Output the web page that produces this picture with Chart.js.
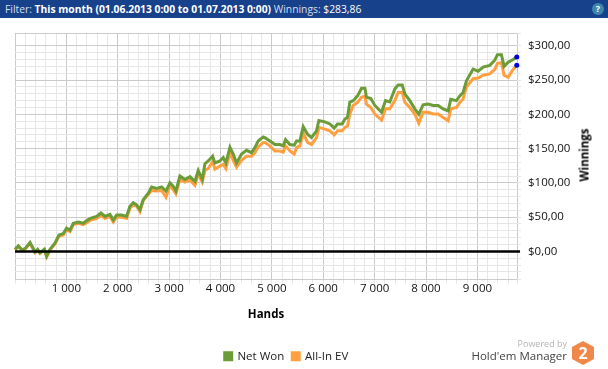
<!DOCTYPE html>
<html>
<head>
<meta charset="utf-8">
<title>Winnings</title>
<script src="https://cdn.jsdelivr.net/npm/chart.js@4"></script>
<style>
body{margin:0;background:#fff;overflow:hidden;font-family:"Open Sans",sans-serif}
#cv{position:absolute;left:0;top:0}
#head{position:absolute;left:0;top:0;width:608px;height:18px;background:#17418a;color:#fff;font-size:10.3px;line-height:18px;white-space:nowrap;padding-left:5px;box-sizing:border-box}
#head span{color:#d5dfee}
#help{position:absolute;left:592px;top:3px;width:12px;height:12px;border-radius:50%;background:#3f86ad;color:#fff;font:bold 9px/12px "Open Sans",sans-serif;text-align:center}
#ylab{position:absolute;left:584px;top:155px;transform:translate(-50%,-50%) rotate(-90deg);font:bold 11.5px "Open Sans",sans-serif;color:#000}
#pow{position:absolute;right:41px;top:337px;font-size:9px;color:#b4b4b4}
#hem{position:absolute;right:41px;top:348px;font-size:11.5px;color:#444}
#logo{position:absolute;left:572px;top:341px;width:22px;height:24px}
</style>
</head>
<body>
<canvas id="cv" width="608" height="369"></canvas>
<div id="head"><span>Filter:</span> <b>This month (01.06.2013 0:00 to 01.07.2013 0:00)</b> <span>Winnings:</span> $283,86</div>
<div id="help">?</div>
<div id="ylab">Winnings</div>
<div id="pow">Powered by</div>
<div id="hem">Hold'em Manager</div>
<svg id="logo" viewBox="0 0 22 24"><polygon points="11,0 22,6 22,18 11,24 0,18 0,6" fill="#f0884a"/><text x="11" y="18" text-anchor="middle" font-family="Open Sans" font-weight="bold" font-size="16" fill="#fff">2</text></svg>
<script>
// valores
var hands = [0,65,143,208,292,389,441,486,571,616,681,778,856,940,1005,1070,1135,1232,1329,1394,1479,1589,1673,1751,1848,1913,1978,2075,2172,2237,2302,2367,2432,
    2497,2594,2659,2756,2854,2938,3016,3081,3132,3210,3307,3405,3502,3567,3645,3697,3761,3846,3891,3988,4053,4105,4183,4248,4313,4410,4507,4604,4669,4734,4831,
    4864,4961,5059,5156,5221,5266,5350,5435,5480,5545,5610,5694,5772,5869,5915,6031,6129,6213,6278,6369,6420,6472,6518,6583,6667,6745,6810,6842,6926,7004,7134,7212,7296,
    7393,7458,7536,7588,7685,7782,7860,7944,8042,8139,8236,8333,8431,8482,8593,8658,8722,8787,8917,9014,9112,9241,9339,9390,9468,9520,9598,9695,9767];
var netWon = [3,8,2,5,13,-0.5,3,-2,3,-7,3,12,24,26,34,31,41,43,41,45,48.5,51,56,51,54,46,53,53,51,66,71,68,61,
    75.5,85,94,92,94,88,100,95,88,110,105,109,102,118,105,128,132,139,129,132,137,129,152,142,129,142,147.5,144,151.5,161,167,
    166,161,156,156,154,163,156,155,161,161,182,171,166,176,191,189,186,180,186,186,193,196,218,220,227,238,238,225,223,213,203,220,218,
    237,243,243,230,220,208,200,214,215,213,213,208,205,222,220,227,232,249,266,263,269,271.5,279,287,287,270,276,280,283.86];
var allInEv = [2,7,1,4,12,-2,1,-3,2,-8,2,11,22,24,32,29,39,41,39,42,46,48,53,48,51,43,50,50,48,63,68,66,58,
    74.5,83,89,88,89,79,96.5,90,84,105,101,104,96.5,113,101.5,118,121,131,120,124.5,127,121,144,133,123,133,139,139,144,152.5,159,
    159,154,146.5,146.5,145,154,146.5,142,151.5,154,172.5,159,156,166,181,178.5,176,170,176,176,181,183,200.5,213,217.5,225,226.5,215,210,200.5,191.5,208,208,
    220,232,232,217.5,210,200.5,187,203,203,200.5,200.5,195.5,190.5,208,210,217.5,222.5,240,252,253,257,259,265.5,274,275.5,257,254,265.5,271.5];
var handTicks = [0,200,400,600,800,1000,1200,1400,1600,1800,2000,2200,2400,2600,2800,3000,3200,3400,3600,3800,4000,4200,4400,4600,4800,5000,
    5200,5400,5600,5800,6000,6200,6400,6600,6800,7000,7200,7400,7600,7800,8000,8200,8400,8600,8800,9000,9200,9400,9600,9771];

var verde = "#6b9c37", naranja = "#ff9f40";
var gridFuerte = "#cbcbcb", gridSuave = "#e6e6e6";

function puntos(valores){
    return hands.map(function(h,i){ return {x:h, y:valores[i]}; });
}
function radioFinal(ctx){
    return ctx.dataIndex==hands.length-1 ? 2.5 : 0;
}

var lineaCero = {
    id:"lineaCero",
    afterLayout:function(chart){
        // la leyenda va centrada bajo el area del grafico, no del canvas
        chart.legend.left -= 25;
        chart.legend.right -= 25;
        chart.legend.top += 3;
    },
    afterDatasetsDraw:function(chart){
        var y = chart.scales.y.getPixelForValue(0), a = chart.chartArea, c = chart.ctx;
        c.save();
        c.strokeStyle = "#000";
        c.lineWidth = 2.5;
        c.beginPath();
        c.moveTo(a.left,y);
        c.lineTo(a.right+3,y);
        c.stroke();
        c.restore();
    }
};

new Chart(document.getElementById("cv").getContext("2d"),{
    type:"line",
    plugins:[lineaCero],
    data:{
        datasets:[
            {label:"Net Won",data:puntos(netWon),borderColor:verde,backgroundColor:verde,borderWidth:3,clip:false,tension:0,
             pointRadius:radioFinal,pointBackgroundColor:"#0000e0",pointBorderWidth:0},
            {label:"All-In EV",data:puntos(allInEv),borderColor:naranja,backgroundColor:naranja,borderWidth:3,clip:false,tension:0,
             pointRadius:radioFinal,pointBackgroundColor:"#0000e0",pointBorderWidth:0}
        ]
    },
    options:{
        responsive:false,
        animation:false,
        layout:{padding:{left:15,top:33,right:0,bottom:0}},
        plugins:{
            tooltip:{enabled:false},
            title:{display:false},
            legend:{
                position:"bottom",
                labels:{boxWidth:7,boxHeight:7,padding:8,color:"#222",font:{family:"Open Sans",size:11.5}}
            }
        },
        scales:{
            x:{
                type:"linear",
                min:0,
                max:9771,
                afterFit:function(s){ s.height=60; },
                afterBuildTicks:function(s){ s.ticks = handTicks.map(function(v){ return {value:v}; }); },
                ticks:{
                    autoSkip:false,maxRotation:0,padding:-2,color:"#111",
                    font:{family:"Open Sans",size:11.5},
                    callback:function(v){ return (v>0&&v%1000==0) ? (v/1000)+" 000" : ""; }
                },
                grid:{
                    tickLength:4,
                    color:function(c){ return c.tick.value%200==0&&c.tick.value%1000!=0 ? gridSuave : gridFuerte; },
                    tickColor:gridSuave
                },
                border:{display:false},
                title:{display:true,text:"Hands",color:"#000",font:{family:"Open Sans",size:11.5,weight:"bold"},padding:{top:10,bottom:18}}
            },
            y:{
                position:"right",
                min:-41,
                max:318.7,
                afterFit:function(s){ s.width=91; },
                ticks:{
                    stepSize:10,autoSkip:false,padding:7,color:"#111",
                    font:{family:"Open Sans",size:11.5},
                    callback:function(v){ return v%50==0 ? "$"+v+",00" : ""; }
                },
                grid:{
                    tickLength:4,
                    color:function(c){ return c.tick.value%10==0&&c.tick.value%50!=0 ? gridSuave : gridFuerte; },
                    tickColor:gridSuave
                },
                border:{display:false}
            }
        }
    }
});
</script>
</body>
</html>
